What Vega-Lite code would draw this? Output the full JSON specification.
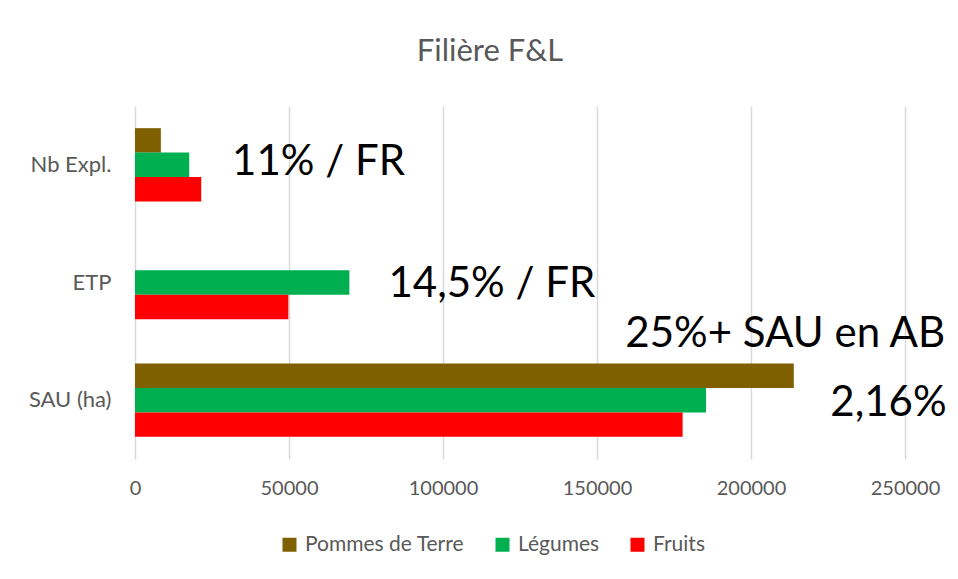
{
  "$schema": "https://vega.github.io/schema/vega-lite/v6.json",
  "width": 770,
  "height": 353,
  "autosize": {"type": "none"},
  "padding": {"left": 135, "top": 106, "right": 53, "bottom": 120},
  "background": "white",
  "config": {
    "font": "Lato",
    "view": {"stroke": null},
    "axis": {"labelFont": "Lato", "labelColor": "#595959", "labelFontSize": 20},
    "legend": {"labelFont": "Lato", "labelColor": "#595959", "labelFontSize": 21}
  },
  "title": {
    "text": "Filière F&L",
    "fontSize": 31,
    "font": "Lato",
    "fontWeight": "normal",
    "color": "#595959",
    "anchor": "middle",
    "frame": "group",
    "baseline": "alphabetic",
    "offset": 14,
    "dx": -30
  },
  "datasets": {
    "bars": [
      {"cat": "Nb Expl.", "serie": "Pommes de Terre", "value": 8400},
      {"cat": "Nb Expl.", "serie": "Légumes", "value": 17600},
      {"cat": "Nb Expl.", "serie": "Fruits", "value": 21500},
      {"cat": "ETP", "serie": "Légumes", "value": 69600},
      {"cat": "ETP", "serie": "Fruits", "value": 49800},
      {"cat": "SAU (ha)", "serie": "Pommes de Terre", "value": 213900},
      {"cat": "SAU (ha)", "serie": "Légumes", "value": 185400},
      {"cat": "SAU (ha)", "serie": "Fruits", "value": 177800}
    ]
  },
  "layer": [
    {
      "data": {"name": "bars"},
      "mark": {"type": "bar"},
      "encoding": {
        "y": {
          "field": "cat", "type": "nominal",
          "scale": {"domain": ["Nb Expl.", "ETP", "SAU (ha)"], "paddingInner": 0.377, "paddingOuter": 0.1885},
          "axis": {"title": null, "ticks": false, "domain": false, "labelPadding": 24, "grid": false, "labelFontSize": 22}
        },
        "yOffset": {
          "field": "serie", "type": "nominal",
          "scale": {"domain": ["Pommes de Terre", "Légumes", "Fruits"], "paddingInner": 0, "paddingOuter": 0}
        },
        "x": {
          "field": "value", "type": "quantitative",
          "scale": {"domain": [0, 250000], "nice": false},
          "axis": {"title": null, "values": [0, 50000, 100000, 150000, 200000, 250000], "format": "d", "grid": true, "gridColor": "#D9D9D9", "gridWidth": 1.5, "domain": false, "ticks": false, "labelPadding": 19, "labelFlush": false, "labelOverlap": false}
        },
        "color": {
          "field": "serie", "type": "nominal",
          "scale": {"domain": ["Pommes de Terre", "Légumes", "Fruits"], "range": ["#7F6000", "#00B050", "#FF0000"]},
          "legend": {"title": null, "orient": "none", "legendX": 144, "legendY": 428, "direction": "horizontal", "symbolType": "square", "symbolSize": 196, "symbolStrokeWidth": 0, "symbolOpacity": 1, "labelOffset": 5, "columnPadding": 27}
        }
      }
    },
    {
      "data": {"values": [{"cat": "Nb Expl.", "x": 31500, "label": "11% / FR"}]},
      "mark": {"type": "text", "align": "left", "baseline": "alphabetic", "dy": 10, "fontSize": 42, "font": "Lato", "color": "black"},
      "encoding": {"y": {"field": "cat", "type": "nominal"}, "x": {"field": "x", "type": "quantitative"}, "text": {"field": "label"}}
    },
    {
      "data": {"values": [{"cat": "ETP", "x": 82300, "label": "14,5% / FR"}]},
      "mark": {"type": "text", "align": "left", "baseline": "alphabetic", "dy": 14, "fontSize": 42, "font": "Lato", "color": "black"},
      "encoding": {"y": {"field": "cat", "type": "nominal"}, "x": {"field": "x", "type": "quantitative"}, "text": {"field": "label"}}
    },
    {
      "data": {"values": [{"cat": "SAU (ha)", "x": 263000, "label": "25%+ SAU en AB"}]},
      "mark": {"type": "text", "align": "right", "baseline": "alphabetic", "dy": -53, "fontSize": 42, "font": "Lato", "color": "black"},
      "encoding": {"y": {"field": "cat", "type": "nominal"}, "x": {"field": "x", "type": "quantitative"}, "text": {"field": "label"}}
    },
    {
      "data": {"values": [{"cat": "SAU (ha)", "x": 263500, "label": "2,16%"}]},
      "mark": {"type": "text", "align": "right", "baseline": "alphabetic", "dy": 16, "fontSize": 42, "font": "Lato", "color": "black"},
      "encoding": {"y": {"field": "cat", "type": "nominal"}, "x": {"field": "x", "type": "quantitative"}, "text": {"field": "label"}}
    }
  ]
}
